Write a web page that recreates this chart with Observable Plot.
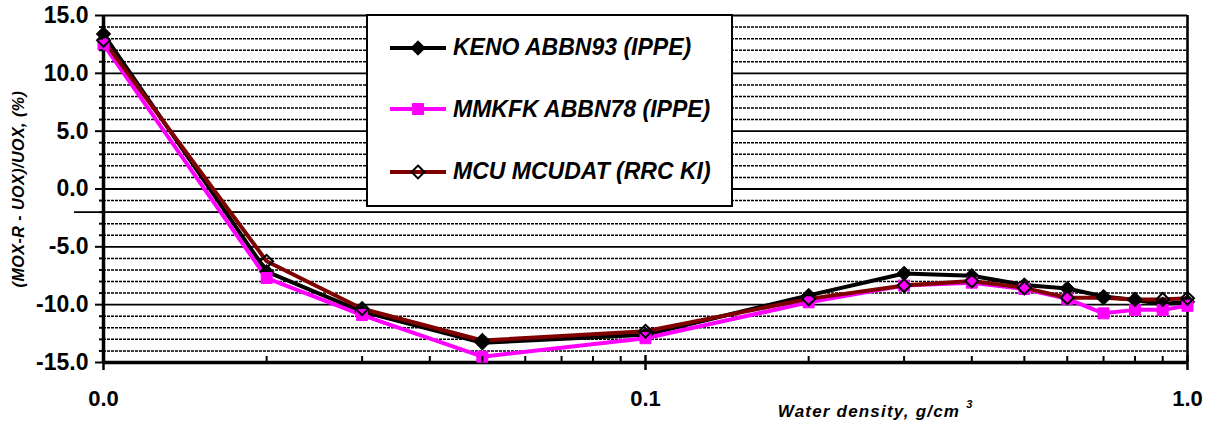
<!DOCTYPE html>
<html>
<head>
<meta charset="utf-8">
<script src="https://cdn.jsdelivr.net/npm/d3@7"></script>
<script src="https://cdn.jsdelivr.net/npm/@observablehq/plot@0.6"></script>
<style>
  body { margin: 0; background: #fff; font-family: "Liberation Sans", Arial, sans-serif; }
  #wrap { position: relative; width: 1210px; height: 433px; }
  #legend { position: absolute; left: 366px; top: 14px; width: 367px; height: 193px; box-sizing: border-box; border: 2px solid #000; background: #fff; }
  .row { position: absolute; left: 22px; height: 30px; display: flex; align-items: center; }
  .row span { font: italic bold 23px "Liberation Sans", Arial, sans-serif; margin-left: 7px; white-space: nowrap; color: #000; }
</style>
</head>
<body>
<div id="wrap"></div>
<script>
// ---- data ----
const density = [0.01, 0.02, 0.03, 0.05, 0.1, 0.2, 0.3, 0.4, 0.5, 0.6, 0.7, 0.8, 0.9, 1.0];
const keno  = [13.4, -7.15, -10.6, -13.3, -12.6, -9.2, -7.3, -7.5, -8.3, -8.6, -9.3, -9.6, -9.95, -9.75];
const mmkfk = [12.5, -7.7, -10.9, -14.5, -12.9, -9.8, -8.35, -8.1, -8.65, -9.5, -10.75, -10.45, -10.45, -10.1];
const mcu   = [12.85, -6.25, -10.35, -13.1, -12.3, -9.5, -8.35, -7.95, -8.55, -9.4, -9.4, -9.55, -9.55, -9.45];

const seriesNames  = ["KENO ABBN93 (IPPE)", "MMKFK ABBN78 (IPPE)", "MCU MCUDAT (RRC KI)"];
const seriesColors = ["#000000", "#ff00ff", "#800000"];

const yMajor = [15, 10, 5, 0, -5, -10, -15];
const yMinor = [14, 13, 12, 11, 9, 8, 7, 6, 4, 3, 2, 1, -1, -2, -3, -4, -6, -7, -8, -9, -11, -12, -13, -14];
const xMajor = [0.01, 0.1, 1];
const xMinor = [0.02, 0.03, 0.04, 0.05, 0.06, 0.07, 0.08, 0.09, 0.2, 0.3, 0.4, 0.5, 0.6, 0.7, 0.8, 0.9];
const xAxisCrossing = [-2];

const yTitle = "(MOX-R - UOX)/UOX, (%)";
const xTitle = "Water density, g/cm";
const xTitleSup = "3";

// ---- tables ----
const rowsOf = vals => density.map((x, i) => ({x, y: vals[i]}));
const kenoRows = rowsOf(keno), mmkfkRows = rowsOf(mmkfk), mcuRows = rowsOf(mcu);

const fmt = d => d.toFixed(1);

const chart = Plot.plot({
  width: 1210,
  height: 433,
  marginLeft: 103,
  marginRight: 23,
  marginTop: 15,
  marginBottom: 71,
  style: { fontFamily: "'Liberation Sans', Arial, sans-serif", background: "#fff", color: "#000", overflow: "visible" },
  x: { type: "log", domain: [0.01, 1], axis: null },
  y: { domain: [-15, 15], axis: null },
  marks: [
    Plot.ruleY(yMinor, { stroke: "#000", strokeWidth: 1.5, strokeDasharray: "3,1" }),
    Plot.ruleY(yMajor.filter(v => v > -15), { stroke: "#000", strokeWidth: 1.8 }),
    Plot.ruleY(xAxisCrossing, { stroke: "#000", strokeWidth: 1.8, insetLeft: -29 }),
    Plot.ruleX([1], { stroke: "#000", strokeWidth: 2.6 }),
    Plot.line(kenoRows,  { x: "x", y: "y", stroke: seriesColors[0], strokeWidth: 4 }),
    Plot.line(mmkfkRows, { x: "x", y: "y", stroke: seriesColors[1], strokeWidth: 4 }),
    Plot.line(mcuRows,   { x: "x", y: "y", stroke: seriesColors[2], strokeWidth: 4 }),
    Plot.ruleX([0.01], { stroke: "#000", strokeWidth: 3.5 }),
    Plot.ruleY([-15], { stroke: "#000", strokeWidth: 3.5 }),
    Plot.dot(kenoRows,  { x: "x", y: "y", symbol: "diamond2", r: 6.5, fill: "#000", stroke: "#000", strokeWidth: 1 }),
    Plot.dot(mmkfkRows, { x: "x", y: "y", symbol: "square", r: 6.2, fill: seriesColors[1], stroke: seriesColors[1], strokeWidth: 1 }),
    Plot.dot(mcuRows,   { x: "x", y: "y", symbol: "diamond2", r: 5.8, fill: "none", stroke: "#000", strokeWidth: 2 }),
    Plot.axisY(yMinor, { tickSize: 4, tickFormat: () => "", strokeWidth: 2, label: null }),
    Plot.axisY(yMajor, { tickSize: 8, tickPadding: 7, tickFormat: fmt, fontSize: 23, fontWeight: "bold", strokeWidth: 2, label: null }),
    Plot.axisX(xMinor, { tickSize: -6, tickFormat: () => "", strokeWidth: 2, label: null }),
    Plot.axisX(xMajor, { tickSize: -7, tickFormat: () => "", strokeWidth: 2.5, label: null }),
    Plot.axisX(xMajor, { tickSize: 8, tickPadding: 20, tickFormat: fmt, fontSize: 22, fontWeight: "bold", strokeWidth: 2.5, label: null }),
    Plot.text([yTitle], { text: d => d, frameAnchor: "left", textAnchor: "middle", dx: -85, rotate: -90, fontSize: 16, fontWeight: "bold", fontStyle: "italic", fill: "#000" }),
    Plot.text([xTitle], { text: d => d, frameAnchor: "bottom-right", textAnchor: "end", dx: -227, dy: 54, fontSize: 17, fontWeight: "bold", fontStyle: "italic", fill: "#000" })
  ]
});

chart.querySelectorAll("text").forEach(t => {
  if (t.textContent === yTitle) t.setAttribute("letter-spacing", "0.5");
  if (t.textContent === xTitle) {
    t.setAttribute("letter-spacing", "1.2");
    const sup = document.createElementNS("http://www.w3.org/2000/svg", "tspan");
    sup.setAttribute("dx", "6");
    sup.setAttribute("dy", "-9");
    sup.setAttribute("font-size", "11");
    sup.textContent = xTitleSup;
    t.setAttribute("text-anchor", "start");
    t.appendChild(sup);
  }
});

const wrap = document.getElementById("wrap");
wrap.appendChild(chart);

// place x title so that its block ends where the reference's does
chart.querySelectorAll("text").forEach(t => {
  if (t.textContent === xTitle + xTitleSup) {
    const bb = t.getBBox();
    t.setAttribute("transform", (t.getAttribute("transform") || "") + ` translate(${-bb.width + 13},0)`);
  }
});

// ---- legend (inside plot area) ----
const legend = document.createElement("div");
legend.id = "legend";
const symbols = [
  { type: d3.symbolDiamond2, r: 6.5, fill: "#000", stroke: "#000", sw: 1 },
  { type: d3.symbolSquare, r: 6.2, fill: seriesColors[1], stroke: seriesColors[1], sw: 1 },
  { type: d3.symbolDiamond2, r: 5.8, fill: "none", stroke: "#000", sw: 2 }
];
const rowTops = [16.7, 78, 140.7];
seriesNames.forEach((name, i) => {
  const row = document.createElement("div");
  row.className = "row";
  row.style.top = rowTops[i] + "px";
  const s = symbols[i];
  const path = d3.symbol().type(s.type).size(Math.PI * s.r * s.r)();
  row.innerHTML =
    `<svg width="56" height="30" style="overflow:visible">` +
    `<line x1="0" x2="56" y1="15" y2="15" stroke="${seriesColors[i]}" stroke-width="4"/>` +
    `<path d="${path}" transform="translate(28,15)" fill="${s.fill}" stroke="${s.stroke}" stroke-width="${s.sw}"/>` +
    `</svg><span>${name}</span>`;
  legend.appendChild(row);
});
wrap.appendChild(legend);
</script>
</body>
</html>
